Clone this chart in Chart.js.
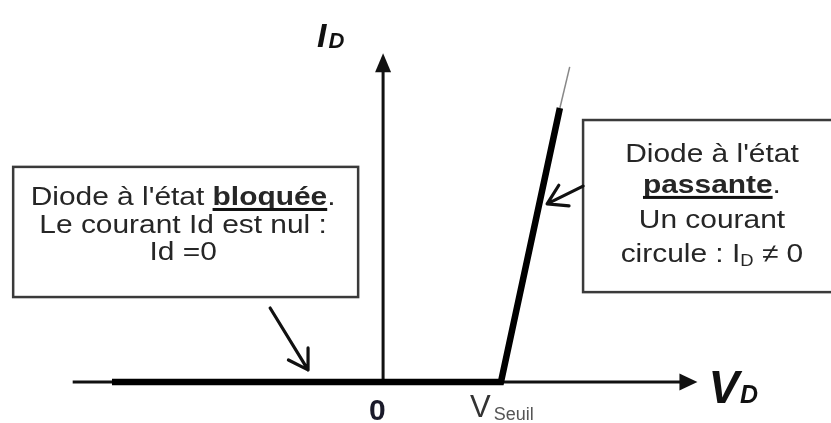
<!DOCTYPE html>
<html><head><meta charset="utf-8">
<script src="https://cdn.jsdelivr.net/npm/chart.js@4/dist/chart.umd.min.js"></script>
<style>html,body{margin:0;padding:0;background:#fff;}#wrap{width:831px;height:423px;position:relative;}</style>
</head><body><div id="wrap"><canvas id="c"></canvas></div>
<script>
// ---- data (V in volts, I in mA) ----
const vdOn = [-1.38, 0, 0.6, 0.9];
const idOn = [0, 0, 0, 100];
const vdExt = [0.9, 0.95];
const idExt = [100, 115];
const tickValues = [0, 0.6];
const tickMain = ['0', 'V'];
const tickSub = ['', 'Seuil'];
const axisTitleX = ['V', 'D'];
const axisTitleY = ['I', 'D'];
const noteLeft = [
  [{t:"Diode à l'état "},{t:'bloquée',b:1,u:1},{t:'.'}],
  [{t:'Le courant Id est nul :'}],
  [{t:'Id =0'}]
];
const noteRight = [
  [{t:"Diode à l'état"}],
  [{t:'passante',b:1,u:1},{t:'.'}],
  [{t:'Un courant'}],
  [{t:'circule : I'},{t:'D',sub:1},{t:' \u2260 0'}]
];

// ---- layout (in data units) ----
const AX = {xFrom:-1.58, xTo:1.60, yTo:120};
const boxL = {x0:-1.883, x1:-0.127, y0:78.5, y1:31.0, cx:-1.018, lines:[64.6,54.4,44.5]};
const boxR = {x0:1.018, x1:2.32, y0:95.6, y1:32.8, cx:1.674, lines:[80.3,69.0,56.2,43.8]};
const arrL = {x0:-0.575, y0:27.0, x1:-0.382, y1:4.4};
const arrR = {x0:1.018, y0:71.5, x1:0.835, y1:65.0};

const FF = "'Liberation Sans', Arial, sans-serif";
const SX = 1.15;

function drawRuns(ctx, runs, cx, base) {
  const size = 26;
  let total = 0;
  const parts = runs.map(r => {
    const f = (r.b ? 'bold ' : '') + (r.sub ? 16 : size) + 'px ' + FF;
    ctx.font = f;
    const w = ctx.measureText(r.t).width;
    total += w;
    return {r, f, w};
  });
  ctx.save();
  ctx.translate(cx - total * SX / 2, base);
  ctx.scale(SX, 1);
  let x = 0;
  ctx.fillStyle = '#262626';
  ctx.textAlign = 'left';
  ctx.textBaseline = 'alphabetic';
  for (const p of parts) {
    ctx.font = p.f;
    ctx.fillText(p.r.t, x, p.r.sub ? 4 : 0);
    if (p.r.u) {
      ctx.fillStyle = '#111';
      ctx.fillRect(x, 3, p.w, 3);
      ctx.fillStyle = '#262626';
    }
    x += p.w;
  }
  ctx.restore();
}

function openArrow(ctx, x0, y0, x1, y1) {
  const a = Math.atan2(y1 - y0, x1 - x0);
  const L = 22, s = 0.55;
  ctx.beginPath();
  ctx.moveTo(x0, y0); ctx.lineTo(x1, y1);
  ctx.moveTo(x1 - L * Math.cos(a - s), y1 - L * Math.sin(a - s));
  ctx.lineTo(x1, y1);
  ctx.lineTo(x1 - L * Math.cos(a + s), y1 - L * Math.sin(a + s));
  ctx.stroke();
}

const deco = {
  id: 'deco',
  beforeDatasetsDraw(chart) {
    const ctx = chart.ctx, X = v => chart.scales.x.getPixelForValue(v), Y = v => chart.scales.y.getPixelForValue(v);
    const y0 = Y(0), x0 = X(0);
    ctx.save();
    ctx.strokeStyle = '#111'; ctx.fillStyle = '#111';
    ctx.lineWidth = 3; ctx.lineCap = 'butt';
    const xt = X(AX.xTo);
    ctx.beginPath(); ctx.moveTo(X(AX.xFrom), y0); ctx.lineTo(xt - 14, y0); ctx.stroke();
    ctx.beginPath(); ctx.moveTo(xt, y0); ctx.lineTo(xt - 18, y0 - 8.5); ctx.lineTo(xt - 18, y0 + 8.5); ctx.closePath(); ctx.fill();
    const yt = Y(AX.yTo);
    ctx.beginPath(); ctx.moveTo(x0, y0); ctx.lineTo(x0, yt + 14); ctx.stroke();
    ctx.beginPath(); ctx.moveTo(x0, yt); ctx.lineTo(x0 - 8, yt + 19); ctx.lineTo(x0 + 8, yt + 19); ctx.closePath(); ctx.fill();
    ctx.restore();
  },
  afterDatasetsDraw(chart) {
    const ctx = chart.ctx, X = v => chart.scales.x.getPixelForValue(v), Y = v => chart.scales.y.getPixelForValue(v);
    const y0 = Y(0), x0 = X(0);
    ctx.save();
    ctx.strokeStyle = '#3a3a3a'; ctx.lineWidth = 2.5;
    for (const b of [boxL, boxR]) {
      ctx.strokeRect(X(b.x0), Y(b.y0), X(b.x1) - X(b.x0), Y(b.y1) - Y(b.y0));
    }
    noteLeft.forEach((ln, i) => drawRuns(ctx, ln, X(boxL.cx), Y(boxL.lines[i])));
    noteRight.forEach((ln, i) => drawRuns(ctx, ln, X(boxR.cx), Y(boxR.lines[i])));
    ctx.strokeStyle = '#111'; ctx.lineWidth = 3.2; ctx.lineCap = 'round'; ctx.lineJoin = 'round';
    openArrow(ctx, X(arrL.x0), Y(arrL.y0), X(arrL.x1), Y(arrL.y1));
    openArrow(ctx, X(arrR.x0), Y(arrR.y0), X(arrR.x1), Y(arrR.y1));
    ctx.fillStyle = '#1a1a2a'; ctx.textBaseline = 'alphabetic'; ctx.textAlign = 'left';
    ctx.font = 'bold 30px ' + FF;
    ctx.fillText(tickMain[0], X(tickValues[0]) - 14, y0 + 38);
    ctx.fillStyle = '#333';
    ctx.font = '31px ' + FF;
    const vx = X(tickValues[1]) - 31;
    ctx.fillText(tickMain[1], vx, y0 + 35);
    const vw = ctx.measureText(tickMain[1]).width;
    ctx.font = '18px ' + FF; ctx.fillStyle = '#555';
    ctx.fillText(tickSub[1], vx + vw + 3, y0 + 38);
    ctx.fillStyle = '#111';
    ctx.font = 'italic bold 46px ' + FF;
    const tx = X(AX.xTo) + 11;
    ctx.fillText(axisTitleX[0], tx, y0 + 21);
    const tw = ctx.measureText(axisTitleX[0]).width;
    ctx.font = 'italic bold 25px ' + FF;
    ctx.fillText(axisTitleX[1], tx + tw + 1, y0 + 21);
    ctx.font = 'italic bold 34px ' + FF;
    const ix = x0 - 66, iy = Y(AX.yTo) - 6;
    ctx.fillText(axisTitleY[0], ix, iy);
    const iw = ctx.measureText(axisTitleY[0]).width;
    ctx.font = 'italic bold 22px ' + FF;
    ctx.fillText(axisTitleY[1], ix + iw + 2, iy + 1);
    ctx.restore();
  }
};

new Chart(document.getElementById('c'), {
  type: 'scatter',
  data: {
    datasets: [
      { data: vdOn.map((v, i) => ({x: v, y: idOn[i]})), showLine: true, borderColor: '#000', borderWidth: 6.5, pointRadius: 0, borderCapStyle: 'butt', borderJoinStyle: 'miter', tension: 0 },
      { data: vdExt.map((v, i) => ({x: v, y: idExt[i]})), showLine: true, borderColor: '#888', borderWidth: 1.5, pointRadius: 0, tension: 0 }
    ]
  },
  options: {
    responsive: true, maintainAspectRatio: false, animation: false,
    layout: { padding: 0 },
    plugins: { legend: { display: false }, tooltip: { enabled: false } },
    scales: {
      x: { type: 'linear', min: -1.95, max: 2.28, display: false },
      y: { type: 'linear', min: -14.96, max: 139.4, display: false }
    }
  },
  plugins: [deco]
});
</script></body></html>
